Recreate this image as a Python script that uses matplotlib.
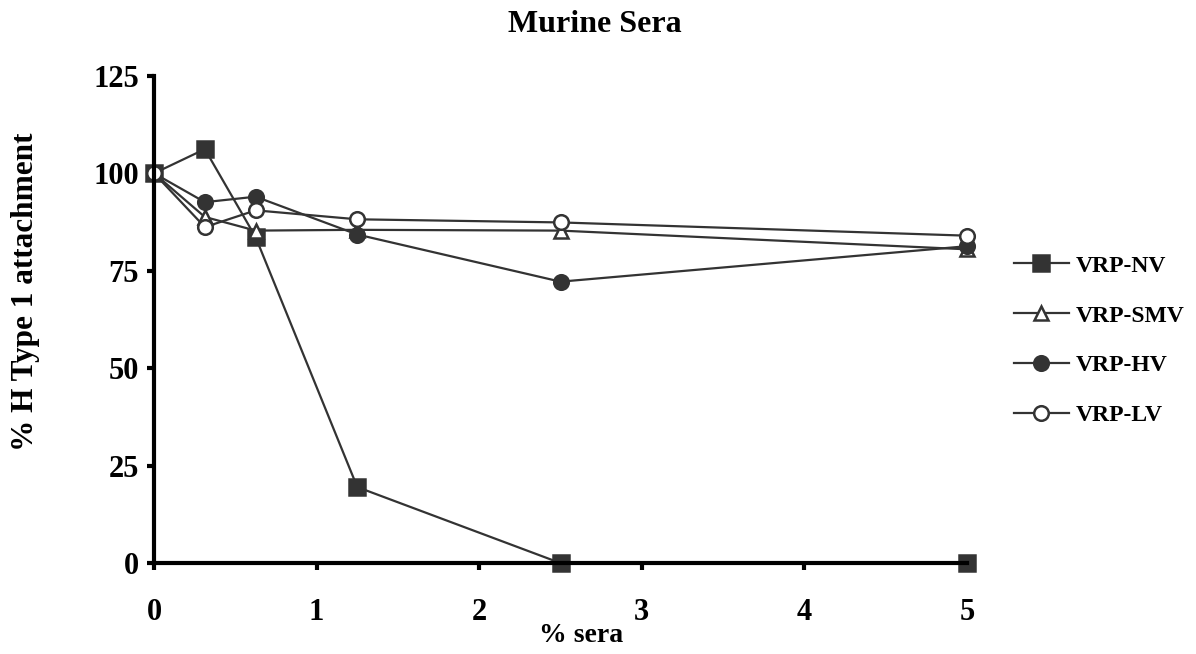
import numpy as np
import matplotlib.pyplot as plt

plt.rcParams['font.family'] = 'Liberation Serif'
plt.rcParams['font.weight'] = 'bold'

# data
sera = [0, 0.3125, 0.625, 1.25, 2.5, 5]
nv = [100, 106.2, 83.6, 19.5, 0, 0]
smv = [100, 88.8, 85.3, 85.5, 85.3, 80.5]
hv = [100, 92.6, 94.0, 84.3, 72.2, 81.3]
lv = [100, 86.2, 90.5, 88.2, 87.4, 84.0]

series = [
    ('VRP-NV', nv, 's', '#333333'),
    ('VRP-SMV', smv, '^', 'white'),
    ('VRP-HV', hv, 'o', '#333333'),
    ('VRP-LV', lv, 'o', 'white'),
]

fig = plt.figure(figsize=(11.96, 6.54), dpi=100)
ax = fig.add_axes([0.1288, 0.139, 0.6797, 0.745])

for name, vals, mk, fc in series:
    ms = 11 if mk == 's' else 10.5
    ax.plot(sera, vals, color='#333333', lw=1.6, marker=mk, ms=ms,
            mfc=fc, mec='#333333', mew=1.8, label=name, clip_on=False)

ax.set_xlim(0, 5)
ax.set_ylim(0, 125)
ax.set_xticks([0, 1, 2, 3, 4, 5])
ax.set_yticks([0, 25, 50, 75, 100, 125])
for s in ['top', 'right']:
    ax.spines[s].set_visible(False)
for s in ['left', 'bottom']:
    ax.spines[s].set_linewidth(3)
ax.tick_params(direction='out', length=5, width=3, labelsize=22, pad=6)
ax.tick_params(axis='x', pad=20)

# title is centred on the whole chart, not the plot area
fig.text(595 / 1196, 1 - 24 / 654, 'Murine Sera', fontsize=23,
         fontweight='bold', ha='center', va='center')

ax.set_xlabel('% sera', fontsize=20, fontweight='bold')
ax.xaxis.set_label_coords(0.525, -0.148)
ax.xaxis.label.set_va('center')
ax.set_ylabel('% H Type 1 attachment', fontsize=22.5, fontweight='bold')
ax.yaxis.set_label_coords(-0.158, 0.556)
ax.yaxis.label.set_va('center')

fig.legend(loc='center left', bbox_to_anchor=(0.848, 0.479), frameon=False,
           fontsize=17, labelspacing=1.2, handlelength=2.3, handletextpad=0.3,
           borderpad=0, borderaxespad=0)

fig.savefig('out.png', dpi=100)
